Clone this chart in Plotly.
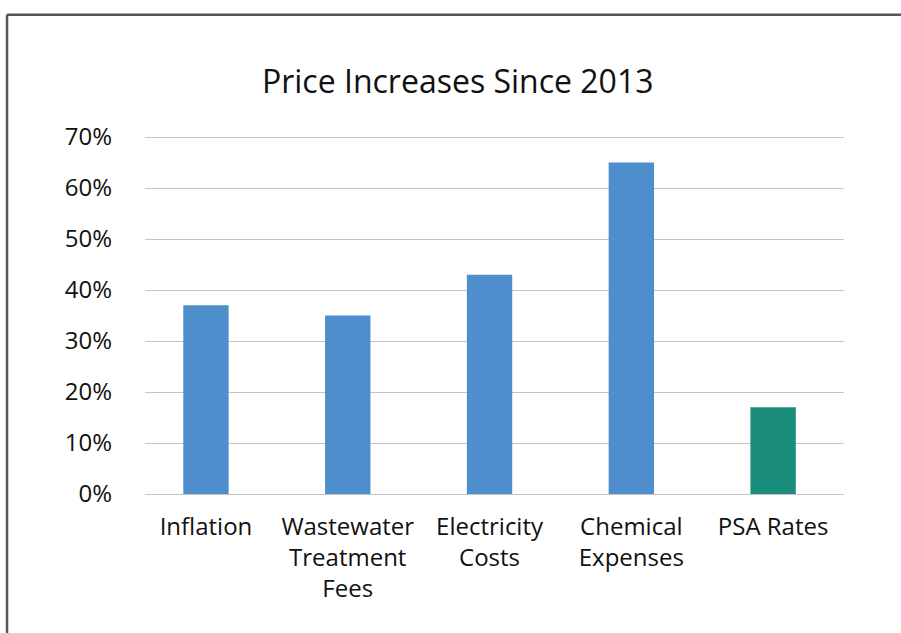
import plotly.graph_objects as go

categories = ["Inflation", "Wastewater<br>Treatment<br>Fees", "Electricity<br>Costs", "Chemical<br>Expenses", "PSA Rates"]
values = [0.37, 0.35, 0.43, 0.65, 0.17]
colors = ["#4f8ecc", "#4f8ecc", "#4f8ecc", "#4f8ecc", "#1a8c7a"]
y_ticks = [0, 0.1, 0.2, 0.3, 0.4, 0.5, 0.6, 0.7]
y_ticklabels = ["0%", "10%", "20%", "30%", "40%", "50%", "60%", "70%"]

font = "Open Sans"

fig = go.Figure(go.Bar(
    x=list(range(len(categories))), y=values,
    marker=dict(color=colors, line=dict(width=0)),
    width=0.32,
))

border = dict(color="#555555", width=2.5)
fig.update_layout(
    width=901, height=633,
    margin=dict(l=145, r=57, t=136, b=139),
    paper_bgcolor="white", plot_bgcolor="white",
    showlegend=False,
    font=dict(family=font, size=24, color="#111111"),
    title=dict(text="Price Increases Since 2013", x=0.508, xanchor="center",
               y=0.87, yanchor="middle", font=dict(family=font, size=32, color="#111111")),
    xaxis=dict(tickmode="array", tickvals=list(range(len(categories))), ticktext=categories,
               range=[-0.43, 4.5], showgrid=False, zeroline=False, showline=False,
               ticks="", ticklabelstandoff=16),
    yaxis=dict(range=[0, 0.702], tickmode="array", tickvals=y_ticks, ticktext=y_ticklabels,
               showgrid=True, gridcolor="#c4c4c4", gridwidth=1.3, zeroline=True,
               zerolinecolor="#c4c4c4", zerolinewidth=1.3,
               showline=False, ticks="", ticklabelstandoff=32),
    shapes=[
        dict(type="line", xref="paper", yref="paper", x0=-0.1974, x1=-0.1974, y0=-0.6, y1=1.339,
             line=border, layer="above"),
        dict(type="line", xref="paper", yref="paper", x0=-0.1974, x1=1.5, y0=1.339, y1=1.339,
             line=border, layer="above"),
    ],
)

fig.write_html("out.html", config={"displayModeBar": False},
               post_script="document.body.style.margin='0';document.body.style.overflow='hidden';")
